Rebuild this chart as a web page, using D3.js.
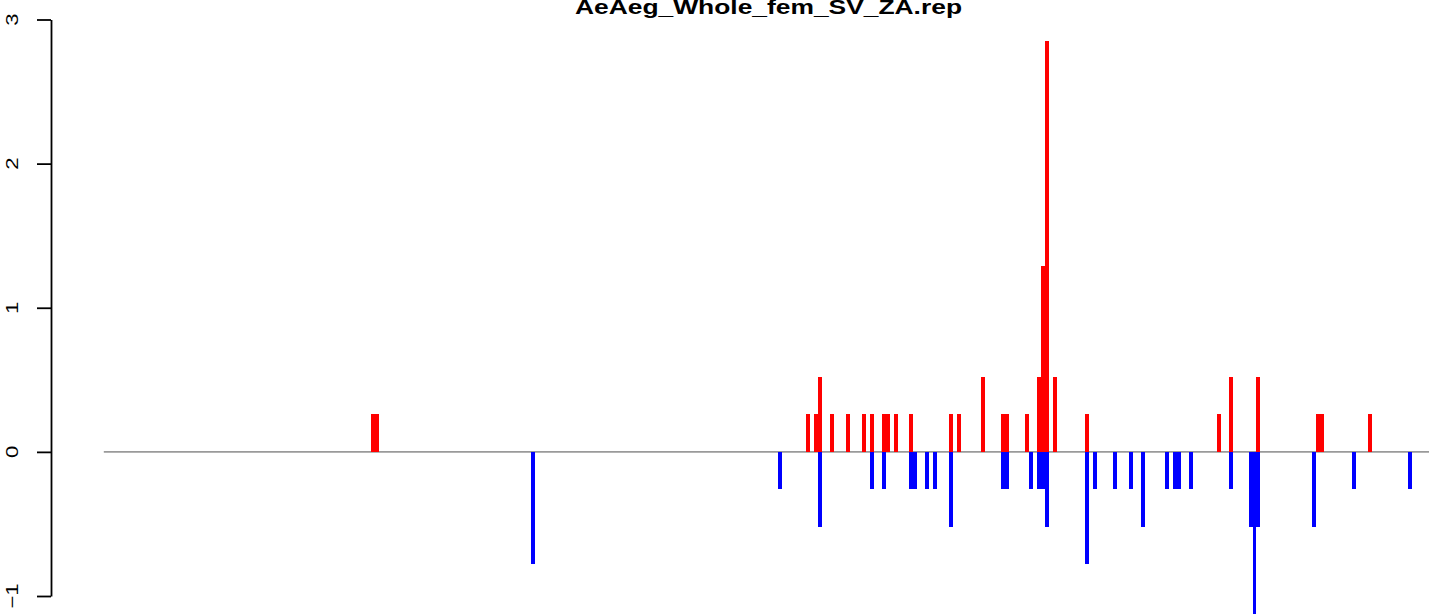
<!DOCTYPE html>
<html>
<head>
<meta charset="utf-8">
<script src="https://cdn.jsdelivr.net/npm/d3@7"></script>
<style>
  html, body { margin: 0; padding: 0; background: #fff; overflow: hidden; }
  svg { display: block; }
</style>
</head>
<body>
<svg id="chart" width="1429" height="614"></svg>
<script>
// ---- data ----
const chartTitle = "AeAeg_Whole_fem_SV_ZA.rep";
const slotCount = 332;
const redSlots = [67,68,176,178,179,182,186,190,192,195,196,198,202,212,214,220,225,226,231,234,235,236,238,246,279,282,289,304,305,317];
const redValues = [0.26,0.26,0.26,0.26,0.52,0.26,0.26,0.26,0.26,0.26,0.26,0.26,0.26,0.26,0.26,0.52,0.26,0.26,0.26,0.52,1.29,2.85,0.52,0.26,0.26,0.52,0.52,0.26,0.26,0.26];
const blueSlots = [107,169,179,192,195,202,203,206,208,212,225,226,232,234,235,236,246,248,253,257,260,266,268,269,272,282,287,288,289,303,313,327];
const blueValues = [-0.78,-0.26,-0.52,-0.26,-0.26,-0.26,-0.26,-0.26,-0.26,-0.52,-0.26,-0.26,-0.26,-0.26,-0.26,-0.52,-0.78,-0.26,-0.26,-0.26,-0.52,-0.26,-0.26,-0.26,-0.26,-0.26,-0.52,-1.3,-0.52,-0.52,-0.26,-0.26];
const yTicks = [-1, 0, 1, 2, 3];

// ---- scales ----
const svg = d3.select("#chart");
const x = d3.scaleBand().domain(d3.range(slotCount)).range([103.8, 1428]).padding(0);
const y = d3.scaleLinear().domain([-1, 3]).range([596, 19.5]);

// baseline
svg.append("line")
  .attr("x1", x.range()[0]).attr("x2", 1429)
  .attr("y1", y(0)).attr("y2", y(0))
  .attr("stroke", "#9a9a9a").attr("stroke-width", 1.6);

const red = redSlots.map((s, i) => ({ s, v: redValues[i] }));
const blue = blueSlots.map((s, i) => ({ s, v: blueValues[i] }));

svg.append("g").selectAll("rect").data(red).join("rect")
  .attr("x", d => x(d.s)).attr("width", x.bandwidth())
  .attr("y", d => y(Math.max(0, d.v))).attr("height", d => Math.abs(y(d.v) - y(0)))
  .attr("fill", "#ff0000").attr("shape-rendering", "crispEdges");

svg.append("g").selectAll("rect").data(blue).join("rect")
  .attr("x", d => x(d.s)).attr("width", x.bandwidth())
  .attr("y", d => y(Math.max(0, d.v))).attr("height", d => Math.abs(y(d.v) - y(0)))
  .attr("fill", "#0000ff").attr("shape-rendering", "crispEdges");

// y axis (R style)
const axis = d3.axisLeft(y).tickValues(yTicks).tickSize(14).tickSizeOuter(0).tickFormat("");
const ag = svg.append("g").attr("transform", "translate(51,0)").call(axis);
ag.selectAll("path,line").attr("stroke", "#000").attr("stroke-width", 1.8);

svg.append("g").selectAll("text").data(yTicks).join("text")
  .attr("transform", d => `translate(18,${y(d)}) rotate(-90) scale(1.3,1)`)
  .attr("text-anchor", "middle")
  .attr("font-family", "Liberation Sans, Arial, sans-serif")
  .attr("font-size", 17)
  .attr("fill", "#000")
  .text(d => d < 0 ? "\u2212" + Math.abs(d) : String(d));

// title
svg.append("text")
  .attr("x", 575).attr("y", 13.5)
  .attr("font-family", "Liberation Sans, Arial, sans-serif")
  .attr("font-weight", "bold")
  .attr("font-size", 20)
  .attr("textLength", 387)
  .attr("lengthAdjust", "spacingAndGlyphs")
  .attr("fill", "#000")
  .text(chartTitle);
</script>
</body>
</html>
